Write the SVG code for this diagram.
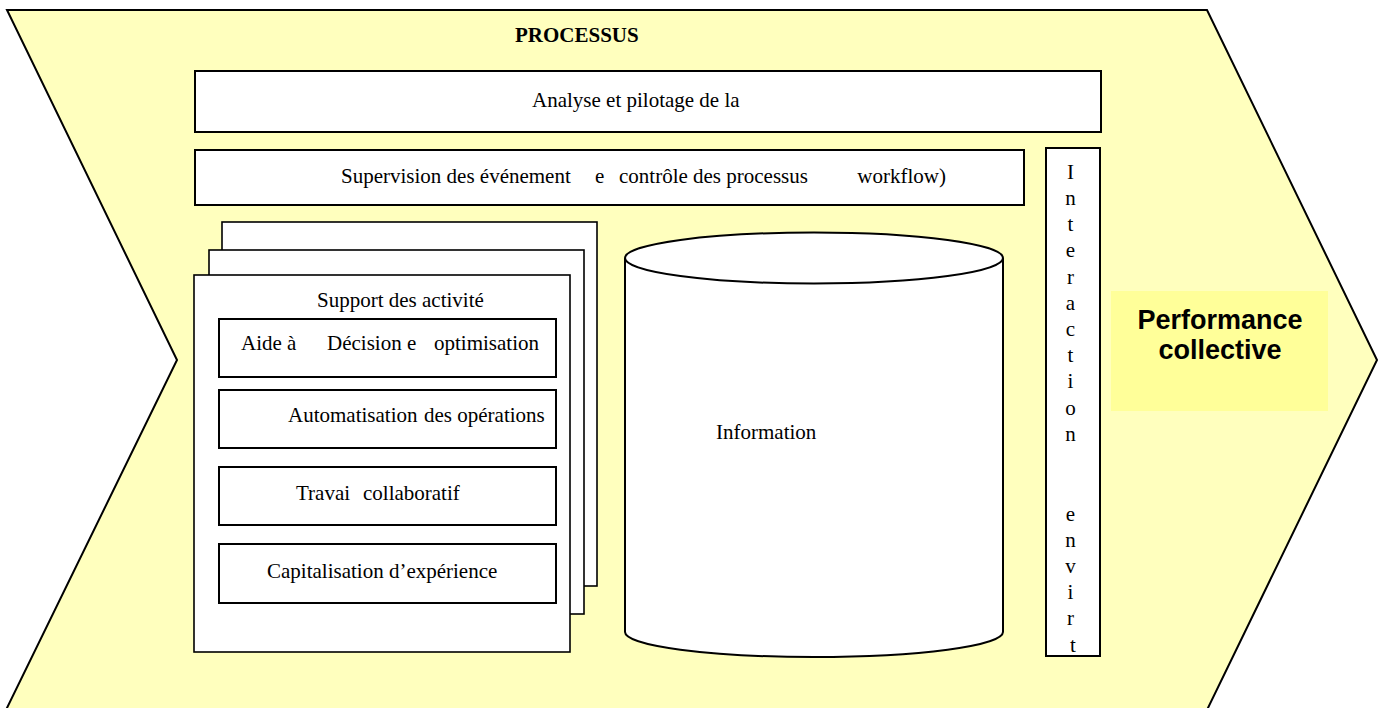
<svg xmlns="http://www.w3.org/2000/svg" width="1384" height="708" viewBox="0 0 1384 708">
<style>
.box{fill:#fff;stroke:#000;stroke-width:2}
.page{fill:#fff;stroke:#000;stroke-width:1.6}
.t{font-family:"Liberation Serif","Times New Roman",serif;font-size:21px;fill:#000}
.c{text-anchor:middle}
.b{font-weight:bold}
.perf{font-family:"Liberation Sans",Arial,sans-serif;font-size:27px;font-weight:bold;text-anchor:middle;fill:#000}
</style>
<rect width="1384" height="708" fill="#fff"/>
<g id="chevron">
<polygon points="7,10 1207,10 1377,360 1206,712 5,712 177,360" fill="#FFFFBE" stroke="#000" stroke-width="2"/>
<text class="t b" x="515" y="42">PROCESSUS</text>
</g>
<g id="analyse">
<rect class="box" x="195" y="71" width="906" height="61"/>
<text class="t" x="532" y="107">Analyse et pilotage de la</text>
</g>
<g id="supervision">
<rect class="box" x="195" y="150" width="829" height="55"/>
<text class="t" y="183"><tspan x="341">Supervision des  événement</tspan><tspan x="595">e</tspan><tspan x="619">contrôle des processus</tspan><tspan x="946" text-anchor="end">workflow)</tspan></text>
</g>
<g id="interaction">
<rect class="box" x="1046" y="148" width="54" height="508"/>
<text class="t c">
<tspan x="1073" y="179">I</tspan>
<tspan x="1073" y="205">n</tspan>
<tspan x="1073" y="231">t</tspan>
<tspan x="1073" y="257">e</tspan>
<tspan x="1073" y="284">r</tspan>
<tspan x="1073" y="310">a</tspan>
<tspan x="1073" y="336">c</tspan>
<tspan x="1073" y="362">t</tspan>
<tspan x="1073" y="388">i</tspan>
<tspan x="1073" y="415">o</tspan>
<tspan x="1073" y="441">n</tspan>
<tspan x="1073" y="521">e</tspan>
<tspan x="1073" y="547">n</tspan>
<tspan x="1073" y="573">v</tspan>
<tspan x="1073" y="599">i</tspan>
<tspan x="1073" y="625">r</tspan>
<tspan x="1073" y="652">t</tspan>
</text>
</g>
<g id="performance">
<rect x="1111" y="291" width="217" height="120" fill="#FFFF99"/>
<text class="perf" x="1220" y="329">Performance</text>
<text class="perf" x="1220" y="359">collective</text>
</g>
<g id="support">
<rect class="page" x="222" y="222" width="375" height="364"/>
<rect class="page" x="209" y="250" width="375" height="364"/>
<rect class="page" x="194" y="275" width="376" height="377"/>
<text class="t" x="317" y="307">Support des  activité</text>
</g>
<g id="aide">
<rect class="box" x="219" y="319" width="337" height="58"/>
<text class="t" y="350"><tspan x="241">Aide à</tspan><tspan x="327">Décision</tspan><tspan x="407">e</tspan><tspan x="434">optimisation</tspan></text>
</g>
<g id="automatisation">
<rect class="box" x="219" y="390" width="337" height="58"/>
<text class="t" y="422"><tspan x="288">Automatisation</tspan><tspan x="424">des opérations</tspan></text>
</g>
<g id="travail">
<rect class="box" x="219" y="467" width="337" height="58"/>
<text class="t" y="500"><tspan x="296">Travai</tspan><tspan x="363">collaboratif</tspan></text>
</g>
<g id="capitalisation">
<rect class="box" x="219" y="544" width="337" height="59"/>
<text class="t" x="267" y="578">Capitalisation d’expérience</text>
</g>
<g id="information">
<path d="M625,258 L625,632 A189,25 0 0 0 1003,632 L1003,258" fill="#fff" stroke="#000" stroke-width="2"/>
<ellipse cx="814" cy="258" rx="189" ry="25.5" fill="#fff" stroke="#000" stroke-width="2"/>
<text class="t" x="716" y="439">Information</text>
</g>
<g id="connectors"></g>
</svg>
